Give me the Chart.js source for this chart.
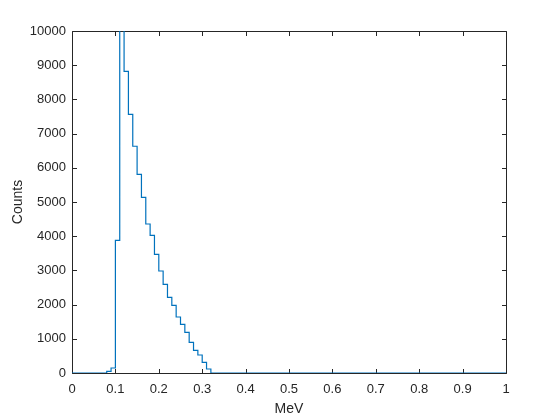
<!DOCTYPE html>
<html>
<head>
<meta charset="utf-8">
<script src="https://cdn.jsdelivr.net/npm/chart.js@4.4.1/dist/chart.umd.min.js"></script>
<style>
  body { margin: 0; background: #fff; }
</style>
</head>
<body>
<canvas id="histChart" width="560" height="420"></canvas>
<script>
// left bin edges (MeV) and the counts held until the next edge
const binEdges = [0, 0.08, 0.09, 0.10, 0.11, 0.12, 0.13, 0.14, 0.15, 0.16, 0.17, 0.18, 0.19,
  0.20, 0.21, 0.22, 0.23, 0.24, 0.25, 0.26, 0.27, 0.28, 0.29, 0.30, 0.31, 0.32, 1];
const counts = [0, 50, 146, 3880, 14000, 8820, 7560, 6630, 5810, 5137, 4357, 4025, 3470,
  2982, 2593, 2213, 1979, 1637, 1423, 1189, 897, 663, 526, 312, 117, 0, 0];

const xTicks = [0, 0.1, 0.2, 0.3, 0.4, 0.5, 0.6, 0.7, 0.8, 0.9, 1];
const xTickLabels = ['0', '0.1', '0.2', '0.3', '0.4', '0.5', '0.6', '0.7', '0.8', '0.9', '1'];
const yTicks = [0, 1000, 2000, 3000, 4000, 5000, 6000, 7000, 8000, 9000, 10000];

const AXIS = '#262626';
const FONT = "'Liberation Sans', Arial, Helvetica, sans-serif";

// matlab style box with inward ticks on all four sides
const boxAxes = {
  id: 'boxAxes',
  beforeDatasetsDraw(chart) {
    const ctx = chart.ctx;
    const a = chart.chartArea;
    const x = chart.scales.x, y = chart.scales.y;
    const tl = 4.5;
    ctx.save();
    ctx.strokeStyle = AXIS;
    ctx.lineWidth = 1;
    ctx.beginPath();
    ctx.rect(a.left + 0.5, a.top + 0.5, a.right - a.left, a.bottom - a.top);
    xTicks.forEach(function (v) {
      const px = Math.round(x.getPixelForValue(v)) + 0.5;
      ctx.moveTo(px, a.bottom + 0.5);
      ctx.lineTo(px, a.bottom + 0.5 - tl);
      ctx.moveTo(px, a.top + 0.5);
      ctx.lineTo(px, a.top + 0.5 + tl);
    });
    yTicks.forEach(function (v) {
      const py = Math.round(y.getPixelForValue(v)) + 0.5;
      ctx.moveTo(a.left + 0.5, py);
      ctx.lineTo(a.left + 0.5 + tl, py);
      ctx.moveTo(a.right + 0.5, py);
      ctx.lineTo(a.right + 0.5 - tl, py);
    });
    ctx.stroke();
    ctx.restore();
  }
};

const CHART = document.getElementById('histChart');
var histChart = new Chart(CHART, {
  type: 'line',
  data: {
    datasets: [{
      label: 'Counts',
      data: binEdges.map(function (e, i) { return { x: e, y: counts[i] }; }),
      stepped: true,
      borderColor: '#0072BD',
      borderWidth: 1.2,
      pointRadius: 0,
      fill: false,
      clip: 0
    }]
  },
  options: {
    responsive: false,
    animation: false,
    layout: {
      padding: { top: 31, right: 54, left: 0, bottom: 0 }
    },
    plugins: {
      legend: { display: false },
      tooltip: { enabled: false }
    },
    scales: {
      x: {
        type: 'linear',
        min: 0,
        max: 1,
        afterFit: function (scale) { scale.height = 47; },
        afterBuildTicks: function (scale) {
          scale.ticks = xTicks.map(function (v) { return { value: v }; });
        },
        grid: { display: false, drawTicks: false },
        border: { display: false },
        ticks: {
          padding: 9,
          color: AXIS,
          font: { family: FONT, size: 13 },
          maxRotation: 0,
          autoSkip: false,
          callback: function (v) { return xTickLabels[xTicks.indexOf(v)]; }
        },
        title: {
          display: true,
          text: 'MeV',
          color: AXIS,
          font: { family: FONT, size: 14 },
          padding: { top: 2, bottom: 2 }
        }
      },
      y: {
        type: 'linear',
        min: 0,
        max: 10000,
        afterFit: function (scale) { scale.width = 72; },
        afterBuildTicks: function (scale) {
          scale.ticks = yTicks.map(function (v) { return { value: v }; });
        },
        grid: { display: false, drawTicks: false },
        border: { display: false },
        ticks: {
          padding: 6,
          color: AXIS,
          font: { family: FONT, size: 13 },
          autoSkip: false,
          callback: function (v) { return String(v); }
        },
        title: {
          display: true,
          text: 'Counts',
          color: AXIS,
          font: { family: FONT, size: 14 },
          padding: { top: 10, bottom: 0 }
        }
      }
    }
  },
  plugins: [boxAxes]
});
</script>
</body>
</html>
